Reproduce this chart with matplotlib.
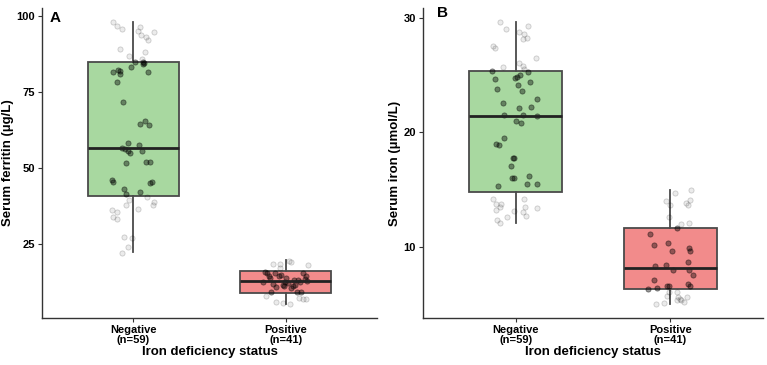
"""Serum ferritin / serum iron by iron deficiency status: box + jitter panels."""
import matplotlib

matplotlib.use("Agg")
import matplotlib.pyplot as plt  # noqa: E402
import numpy as np  # noqa: E402

plt.rcParams["font.family"] = ["Liberation Sans", "DejaVu Sans"]
plt.rcParams["font.weight"] = "bold"

groups = ["Negative\n(n=59)", "Positive\n(n=41)"]
fill_colors = ["#a8d8a0", "#f28b8b"]

# box statistics: whislo, q1, median, q3, whishi
ferritin_box = {
    "Negative": (22.3, 40.9, 56.7, 85.1, 98.1),
    "Positive": (5.2, 8.7, 12.8, 16.0, 19.7),
}
iron_box = {
    "Negative": (12.1, 14.8, 21.4, 25.3, 29.6),
    "Positive": (5.0, 6.3, 8.1, 11.6, 14.9),
}

# jittered observations (value, horizontal offset in category units)
ferritin_neg = [98.1, 96.8, 95.9, 96.4, 95.3, 95.0, 94.0, 93.1, 92.2, 89.3,
                88.3, 86.9, 86.0, 84.9, 84.9, 84.5, 83.3, 81.6, 81.9, 81.2,
                81.8, 78.4, 71.7, 65.5, 64.4, 64.2, 58.3, 57.6, 56.5, 56.4,
                55.5, 55.0, 55.7, 51.8, 51.9, 51.9, 46.0, 45.6, 45.3, 45.0,
                43.1, 41.6, 42.3, 40.4, 39.4, 39.0, 37.7, 38.0, 36.5, 36.2,
                35.4, 33.9, 33.3, 27.2, 27.0, 24.1, 22.1, 84.6, 82.3]
ferritin_neg_dx = [-0.134, -0.108, -0.077, 0.043, 0.028, 0.138, 0.050, 0.081, 0.094, -0.088,
                   0.076, -0.029, 0.057, 0.011, 0.063, 0.066, -0.018, -0.134, -0.090, -0.086,
                   0.094, -0.108, -0.070, 0.079, 0.046, 0.100, -0.036, 0.039, -0.077, -0.057,
                   -0.037, -0.024, 0.059, -0.051, 0.085, 0.109, -0.143, -0.134, 0.120, 0.112,
                   -0.064, -0.049, 0.041, 0.090, -0.029, 0.134, 0.129, -0.049, 0.028, -0.138,
                   -0.108, -0.136, -0.105, -0.062, -0.011, -0.036, -0.077, 0.070, -0.100]
ferritin_pos = [19.5, 19.2, 18.4, 18.3, 18.1, 17.0, 15.9, 15.3, 14.6, 14.7,
                14.5, 13.4, 13.1, 13.1, 12.6, 12.8, 11.7, 11.5, 11.2, 11.2,
                11.4, 9.1, 9.2, 9.1, 7.9, 5.9, 5.7, 5.3, 7.1, 6.8,
                7.0, 13.9, 15.4, 13.7, 15.4, 10.9, 12.0, 12.6, 14.3, 10.4, 12.6]
ferritin_pos_dx = [0.020, 0.033, -0.081, -0.037, 0.147, -0.037, -0.134, -0.120, -0.112, -0.028,
                   0.134, 0.125, 0.079, 0.057, -0.007, 0.143, -0.085, -0.020, -0.013, 0.048,
                   0.061, -0.096, 0.077, 0.099, -0.127, -0.064, -0.020, 0.026, 0.090, 0.112,
                   0.134, -0.105, -0.072, 0.004, 0.112, -0.061, 0.016, 0.092, -0.046, 0.037, -0.149]

iron_neg = [29.6, 29.0, 29.3, 28.7, 28.6, 28.1, 28.2, 27.5, 27.3, 26.5,
            26.0, 25.8, 25.7, 25.5, 25.3, 25.2, 25.0, 24.8, 24.7, 24.6,
            24.4, 24.1, 23.8, 23.6, 22.9, 22.5, 22.2, 22.1, 21.5, 21.5,
            21.4, 21.0, 20.8, 19.5, 19.0, 18.9, 17.7, 17.7, 17.0, 16.0,
            16.0, 16.2, 15.5, 15.5, 15.3, 14.2, 14.2, 13.7, 13.7, 13.5,
            13.5, 13.4, 13.2, 13.1, 13.0, 12.7, 12.6, 12.3, 12.1]
iron_neg_dx = [-0.100, -0.063, 0.082, 0.022, 0.052, 0.045, 0.075, -0.145, -0.132, 0.130,
               0.022, 0.048, -0.080, 0.056, -0.152, 0.078, 0.026, 0.009, -0.002, -0.132,
               0.095, 0.015, -0.119, 0.039, 0.139, -0.084, 0.097, 0.020, -0.073, 0.045,
               0.136, -0.001, 0.035, -0.073, -0.125, -0.110, -0.017, -0.009, -0.028, -0.026,
               -0.013, 0.087, 0.074, 0.136, -0.117, -0.149, 0.052, -0.126, -0.095, -0.104,
               0.058, 0.136, -0.126, -0.013, 0.048, 0.065, -0.058, -0.123, -0.099]
iron_pos = [14.9, 14.7, 14.0, 14.1, 13.8, 13.6, 13.6, 12.6, 12.1, 12.0,
            11.6, 11.1, 10.3, 10.1, 9.6, 9.9, 9.6, 8.7, 8.3, 8.4,
            8.0, 8.0, 7.5, 7.1, 6.3, 6.4, 6.6, 6.6, 6.7, 6.6,
            6.0, 6.0, 5.7, 5.6, 5.6, 5.3, 5.3, 5.1, 5.0, 5.2, 5.45]
iron_pos_dx = [0.136, 0.030, -0.026, 0.128, 0.102, 0.113, -0.004, -0.011, 0.119, 0.067,
               0.045, -0.134, -0.015, -0.104, 0.011, 0.123, 0.130, 0.115, -0.097, -0.026,
               0.020, 0.123, 0.149, -0.106, -0.143, -0.087, -0.020, -0.011, 0.115, 0.128,
               -0.009, 0.045, -0.022, 0.052, 0.106, 0.041, 0.067, -0.039, -0.091, 0.089, 0.060]


def panel(ax, box, obs, letter, letter_xy, ylabel, yticks, ylim):
    stats = []
    for key in ("Negative", "Positive"):
        lo, q1, med, q3, hi = box[key]
        stats.append({"whislo": lo, "q1": q1, "med": med, "q3": q3, "whishi": hi, "fliers": []})
    bp = ax.bxp(stats, positions=[1, 2], widths=0.6, patch_artist=True, showcaps=False,
                boxprops=dict(edgecolor="#4a4a4a", linewidth=1.3),
                whiskerprops=dict(color="#4a4a4a", linewidth=1.3),
                medianprops=dict(color="#222222", linewidth=2.0), zorder=1)
    for patch, c in zip(bp["boxes"], fill_colors):
        patch.set_facecolor(c)
    for m in bp["medians"]:
        m.set_zorder(3)

    for i, (vals, dx) in enumerate(obs):
        vals = np.asarray(vals)
        x = i + 1 + np.asarray(dx)
        q1, q3 = box[("Negative", "Positive")[i]][1:4:2]
        inside = (vals >= q1) & (vals <= q3)
        ax.scatter(x[~inside], vals[~inside], s=14, facecolor=(0, 0, 0, 0.08),
                   edgecolor=(0, 0, 0, 0.18), linewidth=0.6, zorder=2)
        ax.scatter(x[inside], vals[inside], s=14, facecolor=(0, 0, 0, 0.4),
                   edgecolor=(0, 0, 0, 0.45), linewidth=0.6, zorder=2)

    ax.set_xlim(0.4, 2.6)
    ax.set_ylim(*ylim)
    ax.set_yticks(yticks)
    ax.set_xticks([1, 2])
    ax.set_xticklabels(groups, fontsize=8, fontweight="bold", linespacing=0.95)
    ax.tick_params(axis="y", labelsize=8, length=3, width=0.8, pad=2, color="#333333")
    ax.tick_params(axis="x", length=3, width=0.8, pad=2, color="#333333")
    for lab in ax.get_yticklabels():
        lab.set_fontweight("bold")
    for side in ("top", "right"):
        ax.spines[side].set_visible(False)
    for side in ("left", "bottom"):
        ax.spines[side].set_color("#333333")
        ax.spines[side].set_linewidth(1.0)
    ax.set_ylabel(ylabel, fontsize=9.5, fontweight="bold", labelpad=2)
    ax.set_xlabel("Iron deficiency status", fontsize=9.5, fontweight="bold", labelpad=1)
    ax.text(letter_xy[0], letter_xy[1], letter, transform=ax.transAxes, fontsize=11,
            fontweight="bold", va="top", ha="left")


fig = plt.figure(figsize=(7.67, 3.65), dpi=100)
ax_a = fig.add_axes([42 / 767, 47 / 365, 335 / 767, 310 / 365])
ax_b = fig.add_axes([423 / 767, 47 / 365, 340 / 767, 310 / 365])

panel(ax_a, ferritin_box, [(ferritin_neg, ferritin_neg_dx), (ferritin_pos, ferritin_pos_dx)],
      "A", (0.024, 0.99), "Serum ferritin (µg/L)", [25, 50, 75, 100], (0.6, 102.8))
panel(ax_b, iron_box, [(iron_neg, iron_neg_dx), (iron_pos, iron_pos_dx)],
      "B", (0.04, 1.005), "Serum iron (µmol/L)", [10, 20, 30], (3.77, 30.83))

fig.savefig("out.png", dpi=100)
